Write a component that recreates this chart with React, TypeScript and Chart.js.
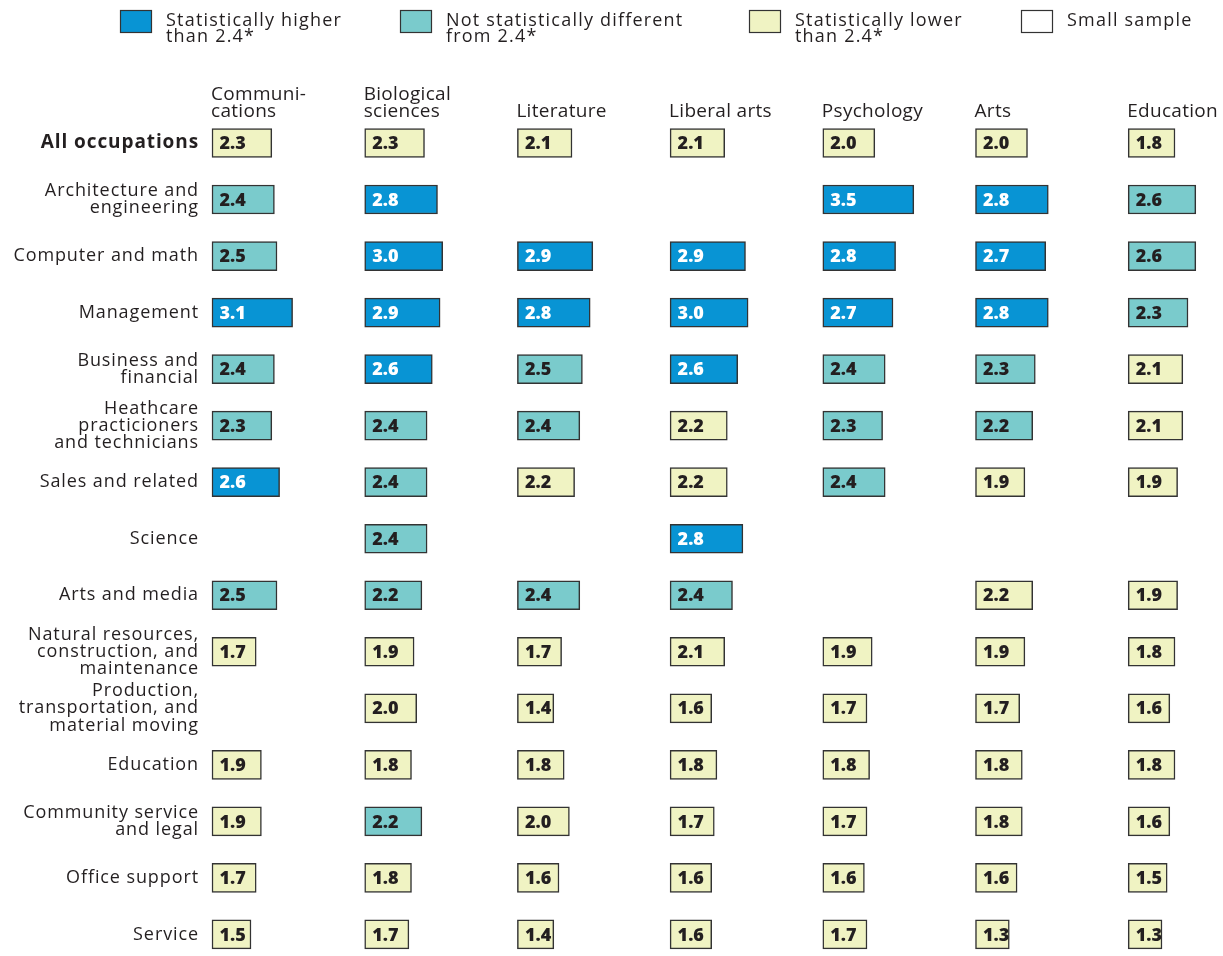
import { useEffect, useRef } from 'react';
import { Chart, registerables } from 'chart.js';

Chart.register(...registerables);

// ---------- DATA ----------
const majors: string[][] = [
  ['Communi-', 'cations'],
  ['Biological', 'sciences'],
  ['Literature'],
  ['Liberal arts'],
  ['Psychology'],
  ['Arts'],
  ['Education'],
];

const occupations: string[][] = [
  ['All occupations'],
  ['Architecture and', 'engineering'],
  ['Computer and math'],
  ['Management'],
  ['Business and', 'financial'],
  ['Heathcare', 'practicioners', 'and technicians'],
  ['Sales and related'],
  ['Science'],
  ['Arts and media'],
  ['Natural resources,', 'construction, and', 'maintenance'],
  ['Production,', 'transportation, and', 'material moving'],
  ['Education'],
  ['Community service', 'and legal'],
  ['Office support'],
  ['Service'],
];

// H = statistically higher, N = not statistically different, L = statistically lower
const communications = [2.3, 2.4, 2.5, 3.1, 2.4, 2.3, 2.6, null, 2.5, 1.7, null, 1.9, 1.9, 1.7, 1.5];
const communicationsSig = ['L', 'N', 'N', 'H', 'N', 'N', 'H', null, 'N', 'L', null, 'L', 'L', 'L', 'L'];

const biological = [2.3, 2.8, 3.0, 2.9, 2.6, 2.4, 2.4, 2.4, 2.2, 1.9, 2.0, 1.8, 2.2, 1.8, 1.7];
const biologicalSig = ['L', 'H', 'H', 'H', 'H', 'N', 'N', 'N', 'N', 'L', 'L', 'L', 'N', 'L', 'L'];

const literature = [2.1, null, 2.9, 2.8, 2.5, 2.4, 2.2, null, 2.4, 1.7, 1.4, 1.8, 2.0, 1.6, 1.4];
const literatureSig = ['L', null, 'H', 'H', 'N', 'N', 'L', null, 'N', 'L', 'L', 'L', 'L', 'L', 'L'];

const liberalArts = [2.1, null, 2.9, 3.0, 2.6, 2.2, 2.2, 2.8, 2.4, 2.1, 1.6, 1.8, 1.7, 1.6, 1.6];
const liberalArtsSig = ['L', null, 'H', 'H', 'H', 'L', 'L', 'H', 'N', 'L', 'L', 'L', 'L', 'L', 'L'];

const psychology = [2.0, 3.5, 2.8, 2.7, 2.4, 2.3, 2.4, null, null, 1.9, 1.7, 1.8, 1.7, 1.6, 1.7];
const psychologySig = ['L', 'H', 'H', 'H', 'N', 'N', 'N', null, null, 'L', 'L', 'L', 'L', 'L', 'L'];

const arts = [2.0, 2.8, 2.7, 2.8, 2.3, 2.2, 1.9, null, 2.2, 1.9, 1.7, 1.8, 1.8, 1.6, 1.3];
const artsSig = ['L', 'H', 'H', 'H', 'N', 'N', 'L', null, 'L', 'L', 'L', 'L', 'L', 'L', 'L'];

const education = [1.8, 2.6, 2.6, 2.3, 2.1, 2.1, 1.9, null, 1.9, 1.8, 1.6, 1.8, 1.6, 1.5, 1.3];
const educationSig = ['L', 'N', 'N', 'N', 'L', 'L', 'L', null, 'L', 'L', 'L', 'L', 'L', 'L', 'L'];

const seriesValues = [communications, biological, literature, liberalArts, psychology, arts, education];
const seriesSig = [communicationsSig, biologicalSig, literatureSig, liberalArtsSig, psychologySig, artsSig, educationSig];

const legendLabels: string[][] = [
  ['Statistically higher', 'than 2.4*'],
  ['Not statistically different', 'from 2.4*'],
  ['Statistically lower', 'than 2.4*'],
  ['Small sample'],
];
const legendKeys = ['H', 'N', 'L', 'S'];

// ---------- STYLE ----------
const FONT = "'Open Sans', 'DejaVu Sans', sans-serif";
const COLORS: Record<string, string> = { H: '#0894d4', N: '#7acbcc', L: '#f0f3c3', S: '#ffffff' };
const BORDER = '#333333';
const TEXT = '#231f20';
const W = 1223;
const H = 956;
const AXIS_W = 212;
const PX_PER_UNIT = 26;
const COL_UNITS = 152.7 / PX_PER_UNIT;
const X_MAX = (W - AXIS_W) / PX_PER_UNIT;

const legendX = [120, 400, 749, 1021];

const spacingPlugin = {
  id: 'spacing',
  beforeDraw(chart: any) {
    (chart.ctx as any).letterSpacing = '0.9px';
  },
  afterDraw(chart: any) {
    (chart.ctx as any).letterSpacing = '0px';
  },
};

const overlayPlugin = {
  id: 'overlay',
  afterDatasetsDraw(chart: any) {
    const ctx = chart.ctx as any;
    const xs = chart.scales.x;
    ctx.save();
    // value labels
    ctx.letterSpacing = '0px';
    chart.data.datasets.forEach((ds: any, di: number) => {
      const meta = chart.getDatasetMeta(di);
      meta.data.forEach((el: any, i: number) => {
        const v = seriesValues[di][i];
        if (v == null) return;
        const sig = seriesSig[di][i];
        ctx.font = `800 18px ${FONT}`;
        ctx.fillStyle = sig === 'H' ? '#ffffff' : TEXT;
        ctx.textAlign = 'left';
        ctx.textBaseline = 'middle';
        const left = Math.min(el.x, el.base);
        ctx.fillText(v.toFixed(1), left + 7.5, el.y + 1);
      });
    });
    // column headers
    ctx.letterSpacing = '0.3px';
    ctx.font = `19px ${FONT}`;
    ctx.fillStyle = TEXT;
    ctx.textAlign = 'left';
    ctx.textBaseline = 'alphabetic';
    majors.forEach((lines, i) => {
      const x = xs.getPixelForValue(i * COL_UNITS) - 1;
      const n = lines.length;
      lines.forEach((t, li) => {
        ctx.fillText(t, x, 117 - (n - 1 - li) * 17);
      });
    });
    // legend
    legendKeys.forEach((k, i) => {
      const x = legendX[i];
      ctx.fillStyle = COLORS[k];
      ctx.fillRect(x, 10, 32, 23);
      ctx.strokeStyle = BORDER;
      ctx.lineWidth = 1.2;
      ctx.strokeRect(x + 0.5, 10.5, 31, 22);
      ctx.fillStyle = TEXT;
      ctx.font = `18px ${FONT}`;
      ctx.letterSpacing = '1.2px';
      legendLabels[i].forEach((t, li) => {
        ctx.fillText(t, x + 46, 26 + li * 16);
      });
    });
    ctx.restore();
  },
};

export default function App() {
  const ref = useRef<HTMLCanvasElement | null>(null);

  useEffect(() => {
    document.body.style.margin = '0';
    document.body.style.overflow = 'hidden';
    const canvas = ref.current;
    if (!canvas) return;

    const datasets = seriesValues.map((vals, di) => ({
      label: majors[di].join(''),
      data: vals.map((v) => (v == null ? null : [di * COL_UNITS, di * COL_UNITS + v])),
      backgroundColor: seriesSig[di].map((s) => (s ? COLORS[s] : 'transparent')),
      borderColor: BORDER,
      borderWidth: 1.5,
      borderSkipped: false,
      barThickness: 29,
      grouped: false,
      clip: false as any,
    }));

    const chart = new Chart(canvas, {
      type: 'bar',
      data: {
        labels: occupations as any,
        datasets: datasets as any,
      },
      plugins: [spacingPlugin, overlayPlugin],
      options: {
        indexAxis: 'y',
        responsive: false,
        animation: false,
        devicePixelRatio: 1,
        layout: { padding: { top: 143, bottom: 14, left: 0, right: 0 } },
        plugins: {
          legend: { display: false },
          tooltip: { enabled: false },
        },
        scales: {
          x: {
            type: 'linear',
            display: false,
            min: 0,
            max: X_MAX,
          },
          y: {
            type: 'category',
            offset: false,
            grid: { display: false, drawTicks: false },
            border: { display: false },
            afterFit: (scale: any) => {
              scale.width = AXIS_W;
            },
            ticks: {
              autoSkip: false,
              padding: 13,
              color: TEXT,
              font: (c: any) =>
                c.index === 0
                  ? { family: FONT, size: 19, lineHeight: 0.9, weight: 'bold' }
                  : { family: FONT, size: 18, lineHeight: 0.95, weight: 'normal' },
            },
          },
        },
      } as any,
    });
    return () => chart.destroy();
  }, []);

  return <canvas ref={ref} width={W} height={H} style={{ display: 'block' }} />;
}
